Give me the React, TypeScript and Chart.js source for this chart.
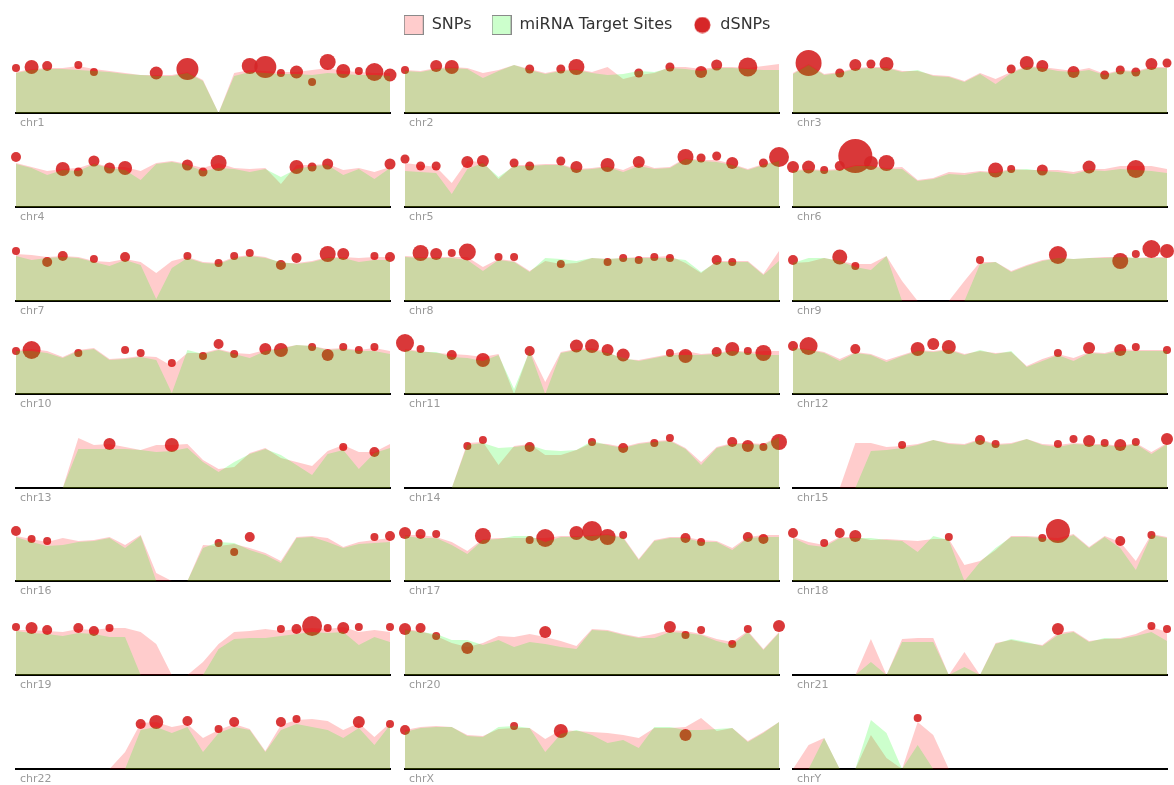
import React, { useEffect, useRef } from 'react';
import { Chart, registerables } from 'chart.js';

Chart.register(...registerables);
Chart.defaults.font.family = "'DejaVu Sans', sans-serif";

// ---- legend ----
const legendLabels = ['SNPs', 'miRNA Target Sites', 'dSNPs'];

// ---- per-chromosome data: area values per bin (25 bins), dSNP bubbles as [bin, value, radius] ----
const snpChr1 = [41,44,45,45,47,44,42,40,38,38,38,41,33,0,40,43,42,41,41,43,45,42,41,40,40];
const mirChr1 = [40,43,44,44,43,42,41,39,38,37,37,40,32,0,37,41,40,39,39,38,40,39,38,38,37];
const dsnpChr1 = [[0,45,4],[1,46,7],[2,47,5],[4,48,4],[5,41,4],[9,40,6.5],[11,44,11],[15,47,8],[16,46,11],[17,40,4],[18,41,6.5],[19,31,4],[20,51,8],[21,42,7],[22,42,4],[23,41,9],[24,38,6.5]];

const snpChr2 = [43,42,45,46,45,40,43,48,44,40,43,44,41,46,34,38,40,46,46,44,46,46,45,47,49];
const mirChr2 = [42,41,44,45,44,35,42,48,43,39,42,43,40,38,39,42,41,45,44,42,45,45,44,43,43];
const dsnpChr2 = [[0,43,4],[2,47,6],[3,46,7],[8,44,4.5],[10,44,4.5],[11,46,8],[15,40,4.5],[17,46,4.5],[19,41,6],[20,48,5.5],[22,46,9.5]];

const snpChr3 = [40,49,39,41,45,46,46,42,42,38,37,32,40,34,41,47,46,44,42,45,39,43,42,46,46];
const mirChr3 = [39,48,38,40,44,45,45,41,43,37,36,31,39,29,40,46,45,42,41,43,38,42,41,45,45];
const dsnpChr3 = [[1,50,13],[3,40,4.5],[4,48,6],[5,49,4.5],[6,49,7],[14,44,4.5],[15,50,7],[16,47,6],[18,41,6],[20,38,4.5],[21,43,4.5],[22,41,4.5],[23,49,6],[24,50,4.5]];

const snpChr4 = [44,40,36,38,39,44,40,40,36,44,46,43,39,44,39,38,39,23,42,42,43,37,39,35,40];
const mirChr4 = [43,39,32,37,36,43,39,37,27,43,45,42,36,39,38,35,38,30,38,41,42,32,38,28,39];
const dsnpChr4 = [[0,50,5],[3,38,7],[4,35,4.5],[5,46,5.5],[6,39,5.5],[7,39,7],[11,42,5.5],[12,35,4.5],[13,44,8],[18,40,7],[19,40,4.5],[20,43,5.5],[24,43,5.5]];

const snpChr5 = [44,42,40,24,46,45,28,42,42,43,43,38,39,41,37,44,39,40,49,47,47,43,38,43,47];
const mirChr5 = [36,35,34,13,38,44,30,41,41,42,42,37,38,40,35,41,38,39,48,46,45,42,37,42,46];
const dsnpChr5 = [[0,48,4.5],[1,41,4.5],[2,41,4.5],[4,45,6],[5,46,6],[7,44,4.5],[8,41,4.5],[10,46,4.5],[11,40,6],[13,42,7],[15,45,6],[18,50,8],[19,49,4.5],[20,51,4.5],[21,44,6],[23,44,4.5],[24,50,10]];

const snpChr6 = [37,38,37,38,42,42,39,40,27,29,35,34,36,35,38,37,37,37,35,38,38,41,41,41,38];
const mirChr6 = [36,37,36,37,41,41,38,38,26,28,33,32,35,34,37,38,36,35,33,37,36,38,37,36,34];
const dsnpChr6 = [[0,40,6],[1,40,6.5],[2,37,4],[3,41,5],[4,51,17],[5,44,7],[6,44,8],[13,37,7.5],[14,38,4],[16,37,5.5],[19,40,6.5],[22,38,9]];

const snpChr7 = [47,46,44,45,44,40,39,42,39,28,40,44,39,38,44,46,44,38,38,40,44,44,43,44,44];
const mirChr7 = [45,41,43,44,43,39,35,41,36,2,33,43,38,37,43,45,43,39,37,39,43,43,39,41,41];
const dsnpChr7 = [[0,50,4],[2,39,5],[3,45,5],[5,42,4],[7,44,5],[11,45,4],[13,38,4],[14,45,4],[15,48,4],[17,36,5],[18,43,5],[20,47,8],[21,47,6],[23,45,4],[24,44,5]];

const snpChr8 = [45,44,44,44,44,34,42,40,30,40,37,38,43,42,43,44,44,45,38,28,40,40,40,27,50];
const mirChr8 = [44,43,43,43,41,30,41,39,29,43,42,40,43,42,43,43,43,43,41,29,39,39,39,26,40];
const dsnpChr8 = [[1,48,8],[2,47,6],[3,48,4],[4,49,8.5],[6,44,4],[7,44,4],[10,37,4],[13,39,4],[14,43,4],[15,41,4],[16,44,4],[17,43,4],[20,41,5],[21,39,4]];

const snpChr9 = [38,39,43,40,37,37,45,20,0,0,0,20,39,39,30,36,41,43,42,43,44,44,43,44,44];
const mirChr9 = [38,43,43,40,34,31,45,0,0,0,0,0,37,39,29,35,40,43,42,43,43,44,43,43,43];
const dsnpChr9 = [[0,41,5],[3,44,7.5],[4,35,4],[12,41,4],[17,46,9],[21,40,8],[22,47,4],[23,52,9],[24,50,7]];

const snpChr10 = [44,45,43,37,44,46,35,36,38,37,28,41,41,45,41,40,44,46,49,48,45,46,44,46,43];
const mirChr10 = [43,43,41,36,43,45,34,35,37,34,1,44,40,44,40,36,43,45,49,48,44,45,43,43,40];
const dsnpChr10 = [[0,43,4],[1,44,9],[4,41,4],[7,44,4],[8,41,4],[10,31,4],[12,38,4],[13,50,5],[14,40,4],[16,45,6],[17,44,7],[19,47,4],[20,39,6],[21,47,4],[22,44,4],[23,47,4]];

const snpChr11 = [45,43,41,40,39,37,40,0,44,12,42,45,46,42,35,34,37,40,43,40,41,44,42,43,43];
const mirChr11 = [44,42,42,37,36,33,39,5,43,0,41,44,44,41,36,33,36,39,39,39,40,43,41,39,39];
const dsnpChr11 = [[0,51,9],[1,45,4],[3,39,5],[5,34,7],[8,43,5],[11,48,6.5],[12,48,7],[13,44,6],[14,39,6.5],[17,41,4],[18,38,7],[20,42,5],[21,45,7],[22,43,4],[23,41,8]];

const snpChr12 = [47,45,42,35,42,40,34,39,44,43,45,40,43,41,42,28,35,40,36,42,41,45,44,44,44];
const mirChr12 = [46,44,41,33,41,39,32,38,43,42,44,39,44,40,43,27,33,39,33,41,40,43,43,43,43];
const dsnpChr12 = [[0,48,5],[1,48,9],[4,45,5],[8,45,7],[9,50,6],[10,47,7],[17,41,4],[19,46,6],[21,44,6],[22,47,4],[24,44,4]];

const snpChr13 = [0,0,0,0,50,43,44,41,38,43,43,44,28,19,21,35,40,30,26,22,37,43,36,36,44];
const mirChr13 = [0,0,0,0,39,39,39,39,38,36,37,40,26,16,26,34,39,33,23,13,34,38,19,35,40];
const dsnpChr13 = [[6,44,6],[10,43,7],[21,41,4],[23,36,5]];

const snpChr14 = [0,0,0,0,45,46,23,42,44,33,33,38,45,44,41,45,47,48,40,26,41,45,45,44,52];
const mirChr14 = [0,0,0,0,43,45,40,41,43,38,37,38,47,43,40,44,46,47,39,23,40,44,44,43,51];
const dsnpChr14 = [[4,42,4],[5,48,4],[8,41,5],[12,46,4],[14,40,5],[16,45,4],[17,50,4],[21,46,5],[22,42,6],[23,41,4],[24,46,8]];

const snpChr15 = [0,0,0,0,45,45,41,42,44,48,45,44,49,44,45,49,44,43,45,44,44,42,45,36,45];
const mirChr15 = [0,0,0,0,0,37,38,40,43,48,44,43,48,43,44,49,43,41,44,43,43,41,44,34,44];
const dsnpChr15 = [[7,43,4],[12,48,5],[13,44,4],[17,44,4],[18,49,4],[19,47,6],[20,45,4],[21,43,6],[22,46,4],[24,49,6]];

const snpChr16 = [45,42,39,43,40,41,44,36,46,8,0,0,36,35,37,33,28,20,44,45,43,34,39,41,43];
const mirChr16 = [44,39,35,36,39,40,43,33,45,0,0,0,33,39,38,31,26,18,43,44,39,33,37,38,39];
const dsnpChr16 = [[0,50,5],[1,42,4],[2,40,4],[13,38,4],[14,29,4],[15,44,5],[23,44,4],[24,45,5]];

const snpChr17 = [46,46,44,39,30,42,43,43,43,43,45,45,46,47,44,22,41,44,44,41,40,33,44,46,46];
const mirChr17 = [45,43,43,36,27,41,42,45,45,39,44,44,45,46,43,21,40,43,43,39,39,31,43,44,44];
const dsnpChr17 = [[0,48,6],[1,47,5],[2,47,4],[5,45,8],[8,41,4],[9,43,9],[11,48,7],[12,50,10],[13,44,8],[14,46,4],[18,43,5],[19,39,4],[22,44,5],[23,42,5]];

const snpChr18 = [44,39,36,44,44,41,42,41,40,42,42,16,20,31,45,45,44,43,47,34,45,39,20,47,44];
const mirChr18 = [43,36,34,43,43,43,41,40,29,45,41,0,19,33,44,44,43,40,46,33,44,33,11,46,43];
const dsnpChr18 = [[0,48,5],[2,38,4],[3,48,5],[4,45,6],[10,44,4],[16,43,4],[17,50,12],[21,40,5],[23,46,4]];

const snpChr19 = [45,45,44,43,46,45,47,47,43,31,0,0,13,31,43,44,46,44,46,47,46,48,43,45,43];
const mirChr19 = [44,42,41,39,42,41,38,38,0,0,0,0,0,26,36,37,37,39,41,43,42,43,30,38,33];
const dsnpChr19 = [[0,48,4],[1,47,6],[2,45,5],[4,47,5],[5,44,5],[6,47,4],[17,46,4],[18,46,5],[19,49,10],[20,47,4],[21,47,6],[22,48,4],[24,48,4]];

const snpChr20 = [46,44,39,32,28,32,39,38,41,38,34,29,46,45,41,38,41,45,44,41,36,33,44,26,43];
const mirChr20 = [45,43,41,35,35,30,35,28,33,31,28,26,45,44,40,37,37,43,42,40,34,30,43,25,42];
const dsnpChr20 = [[0,46,6],[1,47,5],[2,39,4],[4,27,6],[9,43,6],[17,48,6],[18,40,4],[19,45,4],[21,31,4],[22,46,4],[24,49,6]];

const snpChr21 = [0,0,0,0,0,36,0,36,37,37,0,23,0,32,35,32,30,42,44,34,36,37,41,48,43];
const mirChr21 = [0,0,0,0,0,13,0,33,33,33,0,8,0,31,36,33,29,40,43,33,37,36,39,43,34];
const dsnpChr21 = [[17,46,6],[23,49,4],[24,46,4]];

const snpChr22 = [0,0,0,0,0,0,0,17,46,47,42,45,31,39,45,40,18,44,49,50,48,39,46,32,46];
const mirChr22 = [0,0,0,0,0,0,0,0,39,42,36,42,17,36,42,39,17,39,45,42,39,31,41,24,44];
const dsnpChr22 = [[8,45,5],[9,47,7],[11,48,5],[13,40,4],[14,47,5],[17,47,5],[18,50,4],[22,47,6],[24,45,4]];

const snpChrX = [39,42,43,42,34,33,40,41,41,30,39,38,37,36,34,31,41,41,42,51,38,41,28,37,47];
const mirChrX = [37,41,42,42,33,32,42,43,41,17,35,39,34,26,29,21,42,42,39,39,40,41,27,36,47];
const dsnpChrX = [[0,39,5],[7,43,4],[10,38,7],[18,34,6]];

const snpChrY = [0,24,31,0,0,34,11,0,47,34,0,0,0,0,0,0,0,0,0,0,0,0,0,0,0];
const mirChrY = [0,0,31,0,0,49,36,0,24,0,0,0,0,0,0,0,0,0,0,0,0,0,0,0,0];
const dsnpChrY = [[8,51,4]];

const panels = [
  { name: 'chr1', snp: snpChr1, mir: mirChr1, dsnp: dsnpChr1 },
  { name: 'chr2', snp: snpChr2, mir: mirChr2, dsnp: dsnpChr2 },
  { name: 'chr3', snp: snpChr3, mir: mirChr3, dsnp: dsnpChr3 },
  { name: 'chr4', snp: snpChr4, mir: mirChr4, dsnp: dsnpChr4 },
  { name: 'chr5', snp: snpChr5, mir: mirChr5, dsnp: dsnpChr5 },
  { name: 'chr6', snp: snpChr6, mir: mirChr6, dsnp: dsnpChr6 },
  { name: 'chr7', snp: snpChr7, mir: mirChr7, dsnp: dsnpChr7 },
  { name: 'chr8', snp: snpChr8, mir: mirChr8, dsnp: dsnpChr8 },
  { name: 'chr9', snp: snpChr9, mir: mirChr9, dsnp: dsnpChr9 },
  { name: 'chr10', snp: snpChr10, mir: mirChr10, dsnp: dsnpChr10 },
  { name: 'chr11', snp: snpChr11, mir: mirChr11, dsnp: dsnpChr11 },
  { name: 'chr12', snp: snpChr12, mir: mirChr12, dsnp: dsnpChr12 },
  { name: 'chr13', snp: snpChr13, mir: mirChr13, dsnp: dsnpChr13 },
  { name: 'chr14', snp: snpChr14, mir: mirChr14, dsnp: dsnpChr14 },
  { name: 'chr15', snp: snpChr15, mir: mirChr15, dsnp: dsnpChr15 },
  { name: 'chr16', snp: snpChr16, mir: mirChr16, dsnp: dsnpChr16 },
  { name: 'chr17', snp: snpChr17, mir: mirChr17, dsnp: dsnpChr17 },
  { name: 'chr18', snp: snpChr18, mir: mirChr18, dsnp: dsnpChr18 },
  { name: 'chr19', snp: snpChr19, mir: mirChr19, dsnp: dsnpChr19 },
  { name: 'chr20', snp: snpChr20, mir: mirChr20, dsnp: dsnpChr20 },
  { name: 'chr21', snp: snpChr21, mir: mirChr21, dsnp: dsnpChr21 },
  { name: 'chr22', snp: snpChr22, mir: mirChr22, dsnp: dsnpChr22 },
  { name: 'chrX', snp: snpChrX, mir: mirChrX, dsnp: dsnpChrX },
  { name: 'chrY', snp: snpChrY, mir: mirChrY, dsnp: dsnpChrY },
];

// ---- styling / layout ----
const SNP_FILL = 'rgba(255,0,0,0.2)';
const MIR_FILL = 'rgba(0,255,0,0.2)';
const DSNP_FILL = 'rgba(214,39,40,0.92)';
const COL_X = [16, 405, 793];
const ROW_BASE = [113, 207, 301, 394, 488, 581, 675, 769];
const PLOT_W = 374;
const PAD_X = 12;
const PAD_TOP = 16;
const PLOT_H = 60;
const AXIS_H = 21;
const CANVAS_W = PLOT_W + PAD_X * 2;
const CANVAS_H = PAD_TOP + PLOT_H + AXIS_H;
const LEGEND_H = 120;

function makeIcon(kind: 'snp' | 'mir' | 'dsnp'): HTMLCanvasElement {
  const c = document.createElement('canvas');
  if (kind === 'dsnp') {
    c.width = 17; c.height = 17;
    const g = c.getContext('2d')!;
    g.fillStyle = '#d62728';
    g.beginPath(); g.arc(8.5, 8.5, 8, 0, Math.PI * 2); g.fill();
  } else {
    c.width = 20; c.height = 20;
    const g = c.getContext('2d')!;
    g.fillStyle = kind === 'snp' ? 'rgb(255,204,204)' : 'rgb(204,255,204)';
    g.fillRect(0, 0, 20, 20);
    g.strokeStyle = '#8a8a8a'; g.lineWidth = 1;
    g.strokeRect(0.5, 0.5, 19, 19);
  }
  return c;
}

function Legend() {
  const ref = useRef<HTMLCanvasElement>(null);
  useEffect(() => {
    const icons = [makeIcon('snp'), makeIcon('mir'), makeIcon('dsnp')];
    const chart = new Chart(ref.current!, {
      type: 'line',
      data: { datasets: [] },
      options: {
        animation: false, responsive: false, events: [],
        layout: { padding: 0 },
        scales: { x: { display: false }, y: { display: false } },
        plugins: {
          tooltip: { enabled: false },
          legend: {
            display: true, position: 'top', align: 'center',
            labels: {
              usePointStyle: true, pointStyleWidth: 20, padding: 20,
              color: '#333', font: { size: 16 },
              generateLabels: () => legendLabels.map((t, i) => ({
                text: t, pointStyle: icons[i] as any, fillStyle: 'transparent',
                strokeStyle: 'transparent', lineWidth: 0, hidden: false, datasetIndex: i, fontColor: '#333',
              })),
            },
          },
        },
      },
    } as any);
    return () => chart.destroy();
  }, []);
  return <canvas ref={ref} width={1174} height={LEGEND_H}
    style={{ position: 'absolute', left: 0, top: -3, width: 1174, height: LEGEND_H }} />;
}

function Panel({ p, col, row }: { p: typeof panels[number]; col: number; row: number }) {
  const ref = useRef<HTMLCanvasElement>(null);
  useEffect(() => {
    const chart = new Chart(ref.current!, {
      type: 'line',
      data: {
        datasets: [
          {
            type: 'line', label: 'miRNA Target Sites', order: 0,
            data: p.mir.map((v, i) => ({ x: i, y: v })),
            backgroundColor: MIR_FILL, borderColor: 'rgba(0,0,0,0)', borderWidth: 0,
            pointRadius: 0, fill: 'origin', tension: 0,
          },
          {
            type: 'line', label: 'SNPs', order: 1,
            data: p.snp.map((v, i) => ({ x: i, y: v })),
            backgroundColor: SNP_FILL, borderColor: 'rgba(0,0,0,0)', borderWidth: 0,
            pointRadius: 0, fill: 'origin', tension: 0,
          },
          {
            type: 'bubble', label: 'dSNPs', order: 2, clip: false,
            data: p.dsnp.map(([x, y, r]) => ({ x, y, r })),
            backgroundColor: DSNP_FILL, borderColor: 'rgba(0,0,0,0)', borderWidth: 0,
          },
        ],
      },
      options: {
        animation: false, responsive: false, maintainAspectRatio: false, events: [],
        layout: { padding: { top: PAD_TOP, left: PAD_X, right: PAD_X, bottom: 0 }, autoPadding: false },
        plugins: { legend: { display: false }, tooltip: { enabled: false } },
        scales: {
          x: {
            type: 'linear', min: 0, max: 24,
            grid: { display: false, drawTicks: false },
            border: { display: true, color: '#000', width: 2 },
            afterBuildTicks: (s: any) => { s.ticks = [{ value: 0 }]; },
            ticks: {
              display: true, autoSkip: false, maxRotation: 0, align: 'start',
              labelOffset: 4, padding: 4, color: '#9a9a9a',
              font: { size: 11, lineHeight: '13px' },
              callback: () => p.name,
            },
          },
          y: { display: false, min: 0, max: PLOT_H },
        },
      },
    } as any);
    return () => chart.destroy();
  }, [p]);
  const left = COL_X[col] - PAD_X;
  const top = ROW_BASE[row] - PAD_TOP - PLOT_H;
  return <canvas ref={ref} width={CANVAS_W} height={CANVAS_H}
    style={{ position: 'absolute', left, top, width: CANVAS_W, height: CANVAS_H }} />;
}

export default function App() {
  return (
    <div style={{ position: 'absolute', left: 0, top: 0, width: 1174, height: 785, background: '#fff', overflow: 'hidden' }}>
      <Legend />
      {panels.map((p, i) => (
        <Panel key={p.name} p={p} col={i % 3} row={Math.floor(i / 3)} />
      ))}
    </div>
  );
}
